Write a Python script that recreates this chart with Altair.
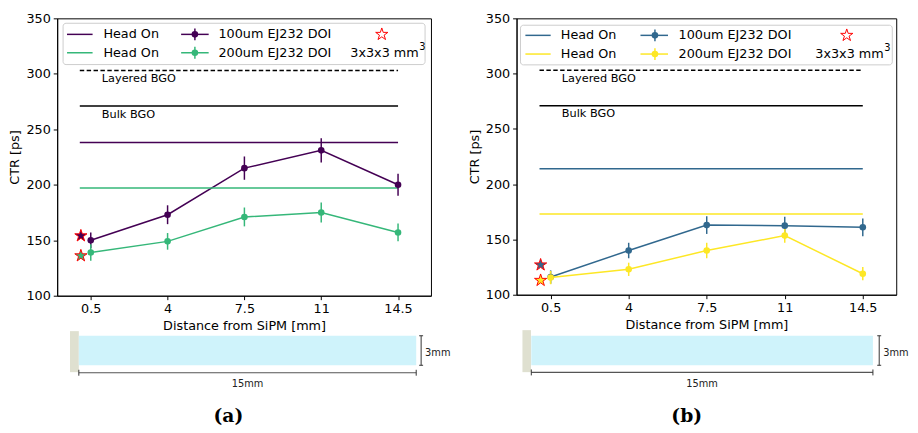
import altair as alt
import pandas as pd

FONT = "DejaVu Sans"

X_POS = [0.5, 4, 7.5, 11, 14.5]
SERIES_NAMES = ["100um EJ232 DOI", "200um EJ232 DOI"]

# panel (a)
A_100 = [150, 173, 215, 231, 200]
A_100_ERR = [7, 8.5, 10.5, 11, 10]
A_200 = [139, 149, 171, 175, 157]
A_200_ERR = [7.5, 7.5, 8.5, 9, 8]
A_HEADON = [238, 197]
A_STARS = [154, 136]
A_COLORS = ["#440154", "#35b779"]

# panel (b)
B_100 = [116, 140, 163, 162.5, 161]
B_100_ERR = [6, 7, 8, 8, 8]
B_200 = [115.5, 123, 140, 153.5, 119]
B_200_ERR = [6, 6, 7, 6.5, 6]
B_HEADON = [214, 173]
B_STARS = [127, 113]
B_COLORS = ["#31688e", "#fde725"]

BGO_LEVELS = [303, 271]
BGO_LABELS = ["Layered BGO", "Bulk BGO"]
HEADON_X = [0, 14.5]
STAR_X = 0.05

STAR_PATH = ("M0,-1L0.2245,-0.309L0.9511,-0.309L0.3633,0.118L0.5878,0.809L0,0.382"
             "L-0.5878,0.809L-0.3633,0.118L-0.9511,-0.309L-0.2245,-0.309Z")

ONE = pd.DataFrame({"k": [0]})
LEG_FS = 13


def txt(x, y, text, size=LEG_FS, align="left", baseline="middle", weight="normal", font=FONT, color="black"):
    return alt.Chart(ONE).mark_text(text=text, fontSize=size, align=align, baseline=baseline,
                                    fontWeight=weight, font=font, color=color).encode(
        x=alt.value(x), y=alt.value(y))


def rule(x1, x2, y1, y2, color="black", width=1.0):
    return alt.Chart(ONE).mark_rule(color=color, strokeWidth=width).encode(
        x=alt.value(x1), x2=alt.value(x2), y=alt.value(y1), y2=alt.value(y2))


def rect(x1, x2, y1, y2, fill, **kw):
    return alt.Chart(ONE).mark_rect(fill=fill, **kw).encode(
        x=alt.value(x1), x2=alt.value(x2), y=alt.value(y1), y2=alt.value(y2))


def panel(vals100, err100, vals200, err200, headon, stars, colors, W, H, lg, dg, letter):
    xs = alt.Scale(domain=[-1.03, 16.0], nice=False, zero=False)
    ys = alt.Scale(domain=[100, 350], nice=False, zero=False)
    cs = alt.Scale(domain=SERIES_NAMES, range=colors)
    xaxis = alt.Axis(values=X_POS, labelExpr="'' + datum.value", title="Distance from SiPM [mm]",
                     grid=False)
    yaxis = alt.Axis(values=[100, 150, 200, 250, 300, 350], title="CTR [ps]", grid=False)

    def X(f):
        return alt.X(f, scale=xs, axis=xaxis)

    def Y(f):
        return alt.Y(f, scale=ys, axis=yaxis)

    rows = []
    for name, vals, errs in [(SERIES_NAMES[0], vals100, err100), (SERIES_NAMES[1], vals200, err200)]:
        for x, v, e in zip(X_POS, vals, errs):
            rows.append({"x": x, "y": v, "lo": v - e, "hi": v + e, "series": name})
    df = pd.DataFrame(rows)

    hdf = pd.DataFrame({"x": [HEADON_X[0]] * 2, "x1": [HEADON_X[1]] * 2,
                        "y": headon, "series": SERIES_NAMES})
    sdf = pd.DataFrame({"x": [STAR_X] * 2, "y": stars, "series": SERIES_NAMES})
    bdash = pd.DataFrame({"x": [HEADON_X[0]], "x1": [HEADON_X[1]], "y": [BGO_LEVELS[0]]})
    bsolid = pd.DataFrame({"x": [HEADON_X[0]], "x1": [HEADON_X[1]], "y": [BGO_LEVELS[1]]})
    btxt = pd.DataFrame({"x": [1.0, 1.0], "y": [BGO_LEVELS[0] - 8, BGO_LEVELS[1] - 8],
                         "label": BGO_LABELS})

    color = alt.Color("series:N", scale=cs, legend=None)

    headon_l = alt.Chart(hdf).mark_rule(strokeWidth=1.5).encode(
        x=X("x:Q"), x2="x1:Q", y=Y("y:Q"), color=color)
    bgo_dash = alt.Chart(bdash).mark_rule(strokeWidth=1.5, color="black", strokeDash=[4.5, 2.5]).encode(
        x=X("x:Q"), x2="x1:Q", y=Y("y:Q"))
    bgo_solid = alt.Chart(bsolid).mark_rule(strokeWidth=1.5, color="black").encode(
        x=X("x:Q"), x2="x1:Q", y=Y("y:Q"))
    bgo_txt = alt.Chart(btxt).mark_text(fontSize=11.5, font=FONT, align="left", baseline="middle",
                                        color="black").encode(
        x=X("x:Q"), y=Y("y:Q"), text="label:N")

    errs = alt.Chart(df).mark_rule(strokeWidth=1.5).encode(
        x=X("x:Q"), y=alt.Y("lo:Q", scale=ys, axis=yaxis), y2="hi:Q", color=color)
    lines = alt.Chart(df).mark_line(strokeWidth=1.5).encode(
        x=X("x:Q"), y=Y("y:Q"), color=color)
    pts = alt.Chart(df).mark_circle(size=45, opacity=1).encode(
        x=X("x:Q"), y=Y("y:Q"), color=color)
    star = alt.Chart(sdf).mark_point(shape=STAR_PATH, size=170, filled=True, opacity=1,
                                     stroke="red", strokeWidth=1).encode(
        x=X("x:Q"), y=Y("y:Q"),
        fill=alt.Fill("series:N", scale=cs, legend=None))

    layers = [lines, headon_l, bgo_dash, bgo_solid, bgo_txt, errs, pts, star]

    # legend (drawn by hand, matplotlib style)
    bx0, bx1, by0, by1 = lg["box"]
    layers.append(rect(bx0, bx1, by0, by1, "white", stroke="#cccccc", strokeWidth=1,
                       cornerRadius=3, fillOpacity=0.8))
    r1, r2 = lg["rows"]
    c1a, c1b, c1t = lg["col1"]
    c2a, c2b, c2m, c2t = lg["col2"]
    for ry, col in [(r1, colors[0]), (r2, colors[1])]:
        layers.append(rule(c1a, c1b, ry, ry, color=col, width=1.5))
        layers.append(txt(c1t, ry, "Head On"))
    for ry, col, lab in [(r1, colors[0], SERIES_NAMES[0]), (r2, colors[1], SERIES_NAMES[1])]:
        layers.append(rule(c2a, c2b, ry, ry, color=col, width=1.5))
        layers.append(rule(c2m, c2m, ry - 6, ry + 6, color=col, width=1.5))
        layers.append(alt.Chart(ONE).mark_circle(size=45, color=col, opacity=1).encode(
            x=alt.value(c2m), y=alt.value(ry)))
        layers.append(txt(c2t, ry, lab))
    sx, stx = lg["star"]
    layers.append(alt.Chart(ONE).mark_point(shape=STAR_PATH, size=170, filled=True, fill="white",
                                            stroke="red", strokeWidth=1, opacity=1).encode(
        x=alt.value(sx), y=alt.value(r1)))
    layers.append(txt(stx, r2, "3x3x3 mm"))
    layers.append(txt(stx + 70, r2 - 6, "3", size=10))

    # crystal sketch below the axis
    layers.append(rect(dg["gx"][0], dg["gx"][1], dg["gy"][0], dg["gy"][1], "#dfe0d0"))
    layers.append(rect(dg["cx"][0], dg["cx"][1], dg["cy"][0], dg["cy"][1], "#cff3fb"))
    bx = dg["bx"]
    layers.append(rule(bx, bx, dg["cy"][0], dg["cy"][1], color="#333333", width=1))
    layers.append(rule(bx - 2, bx + 2, dg["cy"][0], dg["cy"][0], color="#333333", width=1))
    layers.append(rule(bx - 2, bx + 2, dg["cy"][1], dg["cy"][1], color="#333333", width=1))
    layers.append(txt(bx + 4, (dg["cy"][0] + dg["cy"][1]) / 2 + 3, "3mm", size=10, color="#222222"))
    ly = dg["ly"]
    layers.append(rule(dg["cx"][0], dg["cx"][1], ly, ly, color="#555555", width=1.2))
    layers.append(rule(dg["cx"][0], dg["cx"][0], ly - 3, ly + 3, color="#333333", width=1))
    layers.append(rule(dg["cx"][1], dg["cx"][1], ly - 3, ly + 3, color="#333333", width=1))
    layers.append(txt((dg["cx"][0] + dg["cx"][1]) / 2, ly + 12, "15mm", size=10, align="center",
                      color="#222222"))
    layers.append(txt(dg["lx"], ly + 44, letter, size=19, align="center", weight="bold",
                      font="DejaVu Serif"))

    return alt.layer(*layers).properties(width=W, height=H)


left = panel(A_100, A_100_ERR, A_200, A_200_ERR, A_HEADON, A_STARS, A_COLORS, 380, 282,
             lg={"box": (6, 374, 5, 47), "rows": (16.3, 35), "col1": (10, 36, 47),
                 "col2": (126, 154, 140, 164), "star": (330, 298)},
             dg={"gx": (13, 22), "gy": (318, 359.7), "cx": (22, 365), "cy": (322.7, 352.7),
                 "bx": 370, "ly": 360.3, "lx": 174},
             letter="(a)")
right = panel(B_100, B_100_ERR, B_200, B_200_ERR, B_HEADON, B_STARS, B_COLORS, 386, 281,
              lg={"box": (4, 382, 7, 47.3), "rows": (17.3, 36.3), "col1": (9, 34.7, 45),
                  "col2": (126, 154, 140.7, 164.7), "star": (335.7, 303.7)},
              dg={"gx": (6, 14.7), "gy": (317, 359.7), "cx": (15, 362.3), "cy": (322.7, 352.7),
                  "bx": 368.7, "ly": 360, "lx": 173},
              letter="(b)")

chart = alt.hconcat(left, right, spacing=16).resolve_scale(
    color="independent", fill="independent", x="independent", y="independent"
).configure_view(
    stroke="black", strokeWidth=1
).configure_axis(
    labelFont=FONT, titleFont=FONT, labelFontSize=13, titleFontSize=13, titleFontWeight="normal",
    labelColor="black", titleColor="black", domainColor="black", tickColor="black",
    tickSize=4, domainWidth=1, tickWidth=1, labelPadding=3, titlePadding=4
).properties(padding=0)

chart.save("out.html", embed_options={"renderer": "svg", "actions": False})
